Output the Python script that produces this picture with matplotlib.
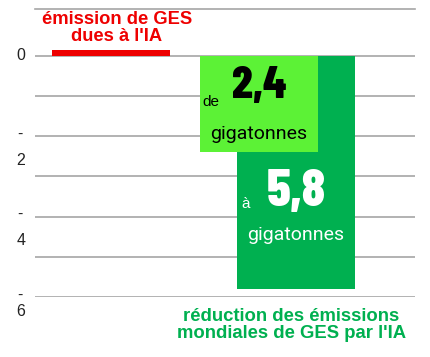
import matplotlib
matplotlib.use("Agg")
import matplotlib.pyplot as plt
from matplotlib.transforms import blended_transform_factory, offset_copy

# Données (gigatonnes de GES)
emission_ia = 0.15          # émissions dues à l'IA (barre rouge, très fine)
reduction_basse = -2.4      # fourchette basse de réduction
reduction_haute = -5.8      # fourchette haute de réduction

ticks = [0, -1, -2, -3, -4, -5, -6]
labelled = [0, -2, -4, -6]

ROUGE = '#ee0000'
VERT_CLAIR = '#5cf236'
VERT = '#00b050'
GRIS = '#a6a6a6'

fig = plt.figure(figsize=(4.3, 3.57), dpi=100)
ax = fig.add_axes([35 / 430, 60 / 357, 380 / 430, 288 / 357])

largeur = 0.709
decal = 0.111

ax.bar(0, emission_ia, width=largeur, color=ROUGE, zorder=3)
ax.bar(1 + decal, reduction_haute, width=largeur, color=VERT, zorder=3)
ax.bar(1 - decal, reduction_basse, width=largeur, color=VERT_CLAIR, zorder=4)

ax.set_xlim(-0.456, 1.826)
ax.set_ylim(-6, 1.17)
ax.set_yticks(ticks)
ax.set_yticklabels([])
ax.set_xticks([])
ax.tick_params(length=0)
ax.grid(axis='y', color=GRIS, linewidth=1.2, zorder=0)
for s in ['left', 'right', 'bottom']:
    ax.spines[s].set_visible(False)
ax.spines['top'].set_color(GRIS)
ax.spines['top'].set_linewidth(1.2)

# étiquettes de l'axe (le signe moins passe à la ligne comme dans l'original)
tr = blended_transform_factory(ax.transAxes, ax.transData)
police_axe = ['Liberation Sans', 'DejaVu Sans']
for v in labelled:
    if v == 0:
        ax.text(-0.037, v, '0', transform=tr, ha='center', va='center',
                fontsize=11.5, family=police_axe, color='#222222')
    else:
        ax.text(-0.04, v + 0.05, '-', transform=tr, ha='center', va='center',
                fontsize=11.5, family=police_axe, color='#222222')
        bas = 14 if v == -6 else 24
        ax.text(-0.037, v, str(-v), ha='center', va='center',
                transform=offset_copy(tr, fig=fig, y=-bas, units='dots'),
                fontsize=11.5, family=police_axe, color='#222222')

# titres des deux groupes
titre = ['Liberation Sans', 'DejaVu Sans']
ax.text(0.036, 0.70, "émission de GES\ndues à l'IA", ha='center', va='center',
        fontsize=13.2, fontweight='bold', family=titre, color=ROUGE,
        linespacing=0.95)
ax.text(1.085, -6.7, "réduction des émissions\nmondiales de GES par l'IA",
        ha='center', va='center', fontsize=13.3, fontweight='bold',
        family=titre, color=VERT, linespacing=0.95, clip_on=False)

# annotations dans les barres
gros = ['Barlow Condensed', 'Anton', 'DejaVu Sans']
fin = ['Roboto', 'DejaVu Sans']
x_clair = 1 - decal
x_fonce = 1 + decal
ax.text(x_clair - 0.342, -1.15, 'de', ha='left', va='center', fontsize=11,
        family=police_axe, color='black', zorder=5)
ax.text(x_clair, -0.75, '2,4', ha='center', va='center', fontsize=33,
        fontweight=800, family=gros, color='black', zorder=5)
ax.text(x_clair, -1.94, 'gigatonnes', ha='center', va='center', fontsize=14,
        family=fin, color='black', zorder=5)

ax.text(x_fonce - 0.33, -3.68, 'à', ha='left', va='center', fontsize=11,
        family=police_axe, color='white', zorder=5)
ax.text(x_fonce, -3.39, '5,8', ha='center', va='center', fontsize=38,
        fontweight=800, family=gros, color='white', zorder=5)
ax.text(x_fonce, -4.46, 'gigatonnes', ha='center', va='center', fontsize=14,
        family=fin, color='white', zorder=5)

fig.savefig('out.png', dpi=100)
